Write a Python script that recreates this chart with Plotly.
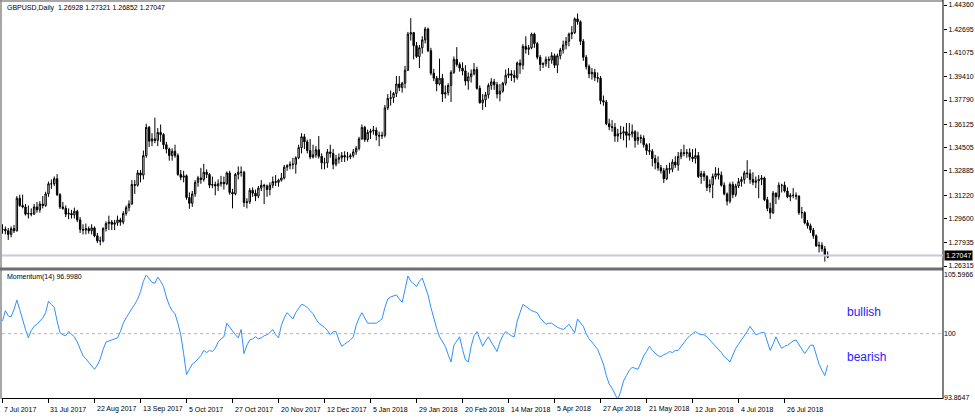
import pandas as pd
import plotly.graph_objects as go

# ---------------- data ----------------
opens = [
    1.2880,1.2885,1.2875,1.2850,1.2890,1.2875,1.3100,1.3050,1.3040,1.2990,
    1.2995,1.2990,1.3040,1.3020,1.3060,1.3050,1.3130,1.3200,1.3200,1.3235,
    1.3125,1.3040,1.3030,1.2990,1.2995,1.2985,1.3010,1.2950,1.2885,1.2880,
    1.2890,1.2875,1.2895,1.2840,1.2805,1.2805,1.2890,1.2925,1.2935,1.2920,
    1.2930,1.2950,1.2935,1.2995,1.3035,1.3060,1.3195,1.3190,1.3275,1.3260,
    1.3395,1.3590,1.3495,1.3510,1.3500,1.3555,1.3540,1.3470,1.3440,1.3395,
    1.3425,1.3395,1.3265,1.3245,1.3255,1.3105,1.3065,1.3130,1.3210,1.3240,
    1.3230,1.3280,1.3265,1.3190,1.3195,1.3185,1.3200,1.3210,1.3200,1.3275,
    1.3140,1.3130,1.3265,1.3280,1.3280,1.3070,1.3075,1.3155,1.3135,1.3115,
    1.3170,1.3190,1.3185,1.3160,1.3190,1.3215,1.3210,1.3225,1.3240,1.3315,
    1.3325,1.3335,1.3335,1.3380,1.3450,1.3525,1.3490,1.3430,1.3385,1.3400,
    1.3435,1.3390,1.3345,1.3345,1.3420,1.3410,1.3335,1.3370,1.3380,1.3395,
    1.3385,1.3385,1.3395,1.3420,1.3445,1.3510,1.3590,1.3505,1.3555,1.3565,
    1.3570,1.3535,1.3530,1.3535,1.3725,1.3790,1.3795,1.3825,1.3890,1.3865,
    1.3895,1.3985,1.4235,1.4245,1.4155,1.4080,1.4140,1.4195,1.4270,1.4120,
    1.3965,1.3930,1.3890,1.3930,1.3820,1.3830,1.3880,1.3970,1.4060,1.4025,
    1.4000,1.3980,1.3910,1.3940,1.3960,1.3990,1.3860,1.3760,1.3780,1.3815,
    1.3880,1.3905,1.3885,1.3820,1.3840,1.3895,1.3950,1.3960,1.3950,1.3935,
    1.4035,1.4020,1.4150,1.4130,1.4140,1.4235,1.4170,1.4075,1.4025,1.4030,
    1.4060,1.4055,1.4085,1.4020,1.4085,1.4125,1.4160,1.4185,1.4235,1.4245,
    1.4340,1.4320,1.4185,1.4075,1.4010,1.3960,1.3970,1.3935,1.3930,1.3775,
    1.3765,1.3615,1.3595,1.3590,1.3530,1.3545,1.3550,1.3560,1.3535,1.3545,
    1.3560,1.3500,1.3520,1.3515,1.3470,1.3430,1.3425,1.3375,1.3345,1.3310,
    1.3290,1.3235,1.3305,1.3300,1.3350,1.3330,1.3390,1.3415,1.3410,1.3415,
    1.3385,1.3375,1.3395,1.3250,1.3270,1.3250,1.3175,1.3195,1.3250,1.3270,
    1.3260,1.3190,1.3130,1.3080,1.3195,1.3125,1.3185,1.3215,1.3230,1.3275,
    1.3270,1.3230,1.3210,1.3220,1.3230,1.3240,1.3090,1.3030,1.3000,1.3135,
    1.3110,1.3190,1.3190,1.3150,1.3110,1.3120,1.3120,1.3115,1.3000,1.3000,
    1.2930,1.2910,1.2880,1.2840,1.2770,1.2775,1.2750,1.26928,
]
highs = [
    1.2920,1.2905,1.2895,1.2905,1.2915,1.3115,1.3125,1.3125,1.3060,1.3050,
    1.3030,1.3060,1.3075,1.3080,1.3115,1.3145,1.3215,1.3230,1.3250,1.3267,
    1.3135,1.3075,1.3050,1.3030,1.3020,1.3035,1.3020,1.2970,1.2920,1.2925,
    1.2905,1.2920,1.2905,1.2860,1.2835,1.2900,1.2940,1.2980,1.2950,1.2950,
    1.2980,1.2965,1.3010,1.3050,1.3085,1.3225,1.3225,1.3295,1.3295,1.3430,
    1.3615,1.3600,1.3550,1.3657,1.3585,1.3610,1.3550,1.3490,1.3450,1.3445,
    1.3470,1.3410,1.3295,1.3290,1.3265,1.3140,1.3150,1.3225,1.3255,1.3310,
    1.3338,1.3300,1.3275,1.3250,1.3215,1.3230,1.3255,1.3250,1.3285,1.3290,
    1.3165,1.3275,1.3320,1.3320,1.3290,1.3100,1.3170,1.3175,1.3160,1.3185,
    1.3225,1.3200,1.3195,1.3210,1.3250,1.3260,1.3235,1.3275,1.3330,1.3335,
    1.3355,1.3380,1.3390,1.3470,1.3550,1.3545,1.3505,1.3510,1.3470,1.3460,
    1.3530,1.3410,1.3380,1.3440,1.3470,1.3440,1.3400,1.3410,1.3420,1.3425,
    1.3420,1.3410,1.3440,1.3460,1.3525,1.3610,1.3600,1.3575,1.3580,1.3600,
    1.3590,1.3560,1.3560,1.3745,1.3820,1.3845,1.3835,1.3945,1.3945,1.3905,
    1.4015,1.4250,1.4345,1.4250,1.4180,1.4160,1.4220,1.4285,1.4280,1.4140,
    1.3995,1.3945,1.4065,1.3960,1.3880,1.3895,1.3985,1.4080,1.4145,1.4040,
    1.4040,1.4020,1.3970,1.3990,1.4035,1.4010,1.3880,1.3820,1.3835,1.3895,
    1.3930,1.3925,1.3905,1.3890,1.3905,1.3990,1.4000,1.3985,1.3985,1.4045,
    1.4060,1.4165,1.4220,1.4160,1.4245,1.4245,1.4180,1.4090,1.4040,1.4080,
    1.4080,1.4110,1.4100,1.4100,1.4140,1.4190,1.4215,1.4245,1.4290,1.4350,
    1.4377,1.4330,1.4200,1.4090,1.4025,1.4000,1.3995,1.3970,1.3945,1.3810,
    1.3780,1.3650,1.3640,1.3620,1.3580,1.3600,1.3595,1.3620,1.3620,1.3610,
    1.3570,1.3560,1.3540,1.3535,1.3480,1.3480,1.3440,1.3400,1.3390,1.3330,
    1.3310,1.3330,1.3345,1.3370,1.3390,1.3420,1.3440,1.3470,1.3440,1.3445,
    1.3440,1.3445,1.3420,1.3290,1.3290,1.3260,1.3230,1.3270,1.3315,1.3310,
    1.3285,1.3210,1.3140,1.3210,1.3215,1.3200,1.3240,1.3250,1.3290,1.3363,
    1.3300,1.3280,1.3250,1.3260,1.3260,1.3250,1.3110,1.3070,1.3150,1.3140,
    1.3210,1.3200,1.3215,1.3175,1.3135,1.3170,1.3140,1.3120,1.3040,1.3010,
    1.2950,1.2925,1.2895,1.2850,1.2800,1.2795,1.2770,1.27321,
]
lows = [
    1.2855,1.2850,1.2812,1.2830,1.2860,1.2870,1.3040,1.3030,1.2980,1.2960,
    1.2975,1.2985,1.3000,1.3000,1.3030,1.3040,1.3110,1.3165,1.3185,1.3115,
    1.3025,1.3020,1.2970,1.2955,1.2960,1.2960,1.2935,1.2860,1.2850,1.2850,
    1.2855,1.2850,1.2830,1.2790,1.2774,1.2795,1.2870,1.2880,1.2880,1.2880,
    1.2910,1.2910,1.2920,1.2980,1.3010,1.3055,1.3130,1.3180,1.3210,1.3230,
    1.3380,1.3455,1.3460,1.3480,1.3460,1.3490,1.3440,1.3410,1.3360,1.3360,
    1.3380,1.3255,1.3225,1.3210,1.3090,1.3027,1.3040,1.3110,1.3180,1.3200,
    1.3215,1.3240,1.3170,1.3170,1.3120,1.3150,1.3180,1.3160,1.3190,1.3125,
    1.3030,1.3120,1.3230,1.3250,1.3040,1.3030,1.3060,1.3110,1.3080,1.3100,
    1.3150,1.3060,1.3110,1.3120,1.3170,1.3185,1.3180,1.3215,1.3230,1.3290,
    1.3300,1.3300,1.3270,1.3370,1.3410,1.3440,1.3410,1.3370,1.3375,1.3380,
    1.3375,1.3300,1.3300,1.3310,1.3380,1.3300,1.3320,1.3340,1.3350,1.3350,
    1.3360,1.3370,1.3380,1.3400,1.3430,1.3505,1.3490,1.3490,1.3510,1.3540,
    1.3500,1.3460,1.3510,1.3520,1.3710,1.3740,1.3760,1.3800,1.3840,1.3830,
    1.3860,1.3980,1.4190,1.4060,1.4070,1.4000,1.4100,1.4170,1.4110,1.3950,
    1.3910,1.3840,1.3880,1.3765,1.3790,1.3810,1.3765,1.3960,1.4010,1.3975,
    1.3950,1.3880,1.3850,1.3900,1.3950,1.3850,1.3755,1.3711,1.3730,1.3790,
    1.3850,1.3850,1.3790,1.3770,1.3830,1.3880,1.3930,1.3910,1.3900,1.3920,
    1.3960,1.3990,1.4100,1.4090,1.4130,1.4140,1.4060,1.3980,1.4000,1.4010,
    1.4000,1.4030,1.4000,1.3965,1.4060,1.4100,1.4130,1.4150,1.4200,1.4235,
    1.4300,1.4160,1.4050,1.3990,1.3930,1.3920,1.3910,1.3900,1.3750,1.3740,
    1.3605,1.3570,1.3560,1.3490,1.3490,1.3510,1.3500,1.3450,1.3500,1.3520,
    1.3450,1.3470,1.3480,1.3450,1.3400,1.3400,1.3320,1.3300,1.3290,1.3270,
    1.3205,1.3225,1.3270,1.3280,1.3310,1.3290,1.3370,1.3390,1.3380,1.3360,
    1.3350,1.3340,1.3240,1.3200,1.3220,1.3150,1.3140,1.3100,1.3230,1.3230,
    1.3180,1.3120,1.3050,1.3065,1.3100,1.3110,1.3170,1.3180,1.3200,1.3240,
    1.3200,1.3190,1.3170,1.3100,1.3190,1.3080,1.3010,1.2957,1.2990,1.3060,
    1.3090,1.3140,1.3140,1.3100,1.3080,1.3100,1.3090,1.2985,1.2960,1.2920,
    1.2890,1.2860,1.2820,1.2765,1.2725,1.2730,1.2662,1.26852,
]
closes = [
    1.2885,1.2875,1.2850,1.2890,1.2875,1.3100,1.3050,1.3040,1.2990,1.2995,
    1.2990,1.3040,1.3020,1.3060,1.3050,1.3130,1.3200,1.3200,1.3235,1.3125,
    1.3040,1.3030,1.2990,1.2995,1.2985,1.3010,1.2950,1.2885,1.2880,1.2890,
    1.2875,1.2895,1.2840,1.2805,1.2805,1.2890,1.2925,1.2935,1.2920,1.2930,
    1.2950,1.2935,1.2995,1.3035,1.3060,1.3195,1.3190,1.3275,1.3260,1.3395,
    1.3590,1.3495,1.3510,1.3500,1.3555,1.3540,1.3470,1.3440,1.3395,1.3425,
    1.3395,1.3265,1.3245,1.3255,1.3105,1.3065,1.3130,1.3210,1.3240,1.3230,
    1.3280,1.3265,1.3190,1.3195,1.3185,1.3200,1.3210,1.3200,1.3275,1.3140,
    1.3130,1.3265,1.3280,1.3280,1.3070,1.3075,1.3155,1.3135,1.3115,1.3170,
    1.3190,1.3185,1.3160,1.3190,1.3215,1.3210,1.3225,1.3240,1.3315,1.3325,
    1.3335,1.3335,1.3380,1.3450,1.3525,1.3490,1.3430,1.3385,1.3400,1.3435,
    1.3390,1.3345,1.3345,1.3420,1.3410,1.3335,1.3370,1.3380,1.3395,1.3385,
    1.3385,1.3395,1.3420,1.3445,1.3510,1.3590,1.3505,1.3555,1.3565,1.3570,
    1.3535,1.3530,1.3535,1.3725,1.3790,1.3795,1.3825,1.3890,1.3865,1.3895,
    1.3985,1.4235,1.4245,1.4155,1.4080,1.4140,1.4195,1.4270,1.4120,1.3965,
    1.3930,1.3890,1.3930,1.3820,1.3830,1.3880,1.3970,1.4060,1.4025,1.4000,
    1.3980,1.3910,1.3940,1.3960,1.3990,1.3860,1.3760,1.3780,1.3815,1.3880,
    1.3905,1.3885,1.3820,1.3840,1.3895,1.3950,1.3960,1.3950,1.3935,1.4035,
    1.4020,1.4150,1.4130,1.4140,1.4235,1.4170,1.4075,1.4025,1.4030,1.4060,
    1.4055,1.4085,1.4020,1.4085,1.4125,1.4160,1.4185,1.4235,1.4245,1.4340,
    1.4320,1.4185,1.4075,1.4010,1.3960,1.3970,1.3935,1.3930,1.3775,1.3765,
    1.3615,1.3595,1.3590,1.3530,1.3545,1.3550,1.3560,1.3535,1.3545,1.3560,
    1.3500,1.3520,1.3515,1.3470,1.3430,1.3425,1.3375,1.3345,1.3310,1.3290,
    1.3235,1.3305,1.3300,1.3350,1.3330,1.3390,1.3415,1.3410,1.3415,1.3385,
    1.3375,1.3395,1.3250,1.3270,1.3250,1.3175,1.3195,1.3250,1.3270,1.3260,
    1.3190,1.3130,1.3080,1.3195,1.3125,1.3185,1.3215,1.3230,1.3275,1.3270,
    1.3230,1.3210,1.3220,1.3230,1.3240,1.3090,1.3030,1.3000,1.3135,1.3110,
    1.3190,1.3190,1.3150,1.3110,1.3120,1.3120,1.3115,1.3000,1.3000,1.2930,
    1.2910,1.2880,1.2840,1.2770,1.2775,1.2750,1.2710,1.27047,
]
momentum = [
    101.2,102.2,101.7,101.6,102.3,103.2,102.3,101.3,100.4,99.6,
    100.3,100.7,100.9,101.2,101.5,102.0,103.1,102.8,102.5,101.2,
    100.1,99.9,99.8,100.2,99.9,99.7,99.2,98.5,97.9,97.6,
    97.3,97.0,96.6,97.0,97.6,98.5,99.2,99.3,99.4,99.5,
    99.6,100.2,101.0,101.5,102.0,102.4,102.8,103.3,104.0,105.0,
    105.6,105.3,104.9,104.8,105.4,105.0,104.5,103.5,102.7,102.2,
    101.9,101.0,99.9,98.1,96.1,96.6,97.1,97.3,97.6,97.9,
    98.4,98.2,98.4,98.3,98.6,99.2,99.5,99.7,101.0,100.6,
    100.2,99.9,99.6,100.4,98.1,98.9,99.4,99.5,99.7,99.5,
    99.6,99.8,99.9,100.1,100.4,99.9,99.6,100.8,101.5,102.0,
    101.7,101.4,102.0,102.4,102.8,102.7,102.5,102.2,101.9,101.4,
    101.0,100.8,100.6,100.3,99.9,100.2,100.2,99.4,98.8,99.0,
    99.2,99.4,99.7,100.8,101.5,102.0,101.5,101.0,101.0,101.0,
    101.0,101.2,101.4,102.5,103.3,103.5,103.6,103.7,103.3,103.0,
    104.2,105.5,105.0,104.7,104.5,105.0,105.3,104.5,103.7,102.5,
    101.4,100.5,99.7,99.2,98.8,98.0,97.3,98.9,99.3,99.7,
    98.5,97.5,97.3,98.8,99.8,100.2,99.5,98.8,99.3,99.7,
    99.2,98.7,98.3,99.2,99.8,100.2,100.0,99.8,99.7,101.2,
    102.0,102.8,102.6,102.4,102.2,102.1,102.0,101.5,101.2,100.9,
    101.0,101.0,100.8,100.6,100.5,100.4,100.6,100.9,100.5,100.1,
    101.4,101.0,100.7,100.0,99.5,99.2,98.9,98.5,97.8,97.1,
    96.0,95.2,94.8,94.2,93.7,94.5,95.5,96.0,96.5,96.8,
    96.7,96.6,97.2,97.9,98.3,98.8,98.4,98.1,97.9,97.8,
    98.0,98.1,98.3,98.2,98.4,98.4,98.8,99.2,99.5,99.8,
    100.0,100.2,100.0,99.9,99.9,99.7,99.4,99.1,98.8,98.6,
    98.2,97.8,97.6,97.3,97.9,98.6,99.0,99.4,99.7,100.2,
    100.7,100.3,99.9,100.0,100.1,100.1,99.2,98.4,99.0,99.7,
    99.1,98.6,98.8,98.9,99.1,99.3,99.4,99.0,98.5,98.1,
    98.5,98.9,98.9,98.0,97.1,96.5,96.0,96.998,
]
date_labels = ["7 Jul 2017", "31 Jul 2017", "22 Aug 2017", "13 Sep 2017", "5 Oct 2017",
               "27 Oct 2017", "20 Nov 2017", "12 Dec 2017", "5 Jan 2018", "29 Jan 2018",
               "20 Feb 2018", "14 Mar 2018", "5 Apr 2018", "27 Apr 2018", "21 May 2018",
               "12 Jun 2018", "4 Jul 2018", "26 Jul 2018"]
price_ticks = [1.44360, 1.42695, 1.41075, 1.39410, 1.37790, 1.36125, 1.34505,
               1.32885, 1.31220, 1.29600, 1.27935, 1.26315]
mom_ticks = [105.5966, 100.0, 93.8647]
last_price = 1.27047
header = "GBPUSD,Daily  1.26928 1.27321 1.26852 1.27047"
mom_header = "Momentum(14) 96.9980"

# ---------------- trading calendar ----------------
days = pd.bdate_range("2017-07-07", "2018-08-16")
days = days[~days.isin(pd.to_datetime(["2017-12-25", "2018-01-01"]))]
n = len(closes)
assert len(opens) == n and len(highs) == n and len(lows) == n and len(momentum) == n and len(days) == n, \
    (len(opens), len(highs), len(lows), len(closes), len(momentum), len(days))
idx = list(range(n))
day_pos = {d: i for i, d in enumerate(days)}
tick_pos = [day_pos[pd.to_datetime(s, format="%d %b %Y")] for s in date_labels]

# ---------------- geometry helpers (pixel -> paper) ----------------
W, H = 975, 420
px = lambda v: v / W
py = lambda v: 1 - v / H
FONT = "Liberation Sans, Arial, sans-serif"

fig = go.Figure()
fig.add_trace(go.Candlestick(
    x=idx, open=opens, high=highs, low=lows, close=closes,
    increasing=dict(line=dict(color="black", width=1), fillcolor="white"),
    decreasing=dict(line=dict(color="black", width=1), fillcolor="black"),
    whiskerwidth=0, xaxis="x", yaxis="y", hoverinfo="skip",
))
fig.add_trace(go.Scatter(
    x=idx, y=momentum, mode="lines", line=dict(color="#2f8fff", width=1),
    xaxis="x", yaxis="y2", hoverinfo="skip",
))

axis_font = dict(family=FONT, size=7, color="black")
fig.update_layout(
    width=W, height=H, margin=dict(l=0, r=0, t=0, b=0),
    paper_bgcolor="white", plot_bgcolor="white", showlegend=False,
    xaxis=dict(domain=[px(2), px(943)], range=[-0.17, 327.1], anchor="y2",
               showgrid=False, zeroline=False, rangeslider=dict(visible=False),
               tickmode="array", tickvals=tick_pos, showticklabels=False,
               ticks="outside", ticklen=4, tickcolor="black",
               showline=True, linecolor="black", linewidth=1, automargin=False),
    yaxis=dict(domain=[py(267), py(3)], range=[1.26246, 1.44499], side="right",
               anchor="x", showgrid=False, zeroline=False, tickmode="array",
               tickvals=price_ticks, ticktext=[f"{v:.5f}" for v in price_ticks],
               ticks="outside", ticklen=3, tickcolor="black", tickfont=axis_font,
               automargin=False),
    yaxis2=dict(domain=[py(398), py(275)], range=[93.8647, 105.5966], side="right",
                anchor="x", showgrid=False, zeroline=False, tickmode="array",
                tickvals=mom_ticks, ticktext=["105.5966", "100", "93.8647"],
                ticks="", tickfont=axis_font, automargin=False),
)

shapes = [
    # outer frame left / top
    dict(type="line", xref="paper", yref="paper", x0=px(1), x1=px(1), y0=py(0), y1=py(399),
         line=dict(color="#8a8a8a", width=1.5)),
    dict(type="line", xref="paper", yref="paper", x0=px(0), x1=px(943), y0=py(1), y1=py(1),
         line=dict(color="#8a8a8a", width=1.5)),
    # panel separator
    dict(type="rect", xref="paper", yref="paper", x0=px(0), x1=px(943), y0=py(270.5), y1=py(267.5),
         fillcolor="#6e6e6e", line=dict(width=0)),
    # right axis line
    dict(type="line", xref="paper", yref="paper", x0=px(943), x1=px(943), y0=py(0), y1=py(399),
         line=dict(color="black", width=1)),
    # current price line
    dict(type="line", xref="paper", yref="y", x0=px(2), x1=px(943), y0=last_price, y1=last_price,
         line=dict(color="#c4ccd8", width=2)),
    # momentum 100 level
    dict(type="line", xref="paper", yref="y2", x0=px(2), x1=px(943), y0=100, y1=100,
         line=dict(color="#b4b4b4", width=1, dash="dot")),
]
fig.update_layout(shapes=shapes)

ann = [
    dict(text=header, xref="paper", yref="paper", x=px(5), y=py(8), xanchor="left", yanchor="middle",
         showarrow=False, font=dict(family=FONT, size=7, color="black")),
    dict(text=mom_header, xref="paper", yref="paper", x=px(5), y=py(277), xanchor="left", yanchor="middle",
         showarrow=False, font=dict(family=FONT, size=7, color="black")),
    dict(text=f"{last_price:.5f}", xref="paper", yref="y", x=px(944), y=last_price, xanchor="left",
         yanchor="middle", showarrow=False, bgcolor="black", borderpad=1,
         font=dict(family=FONT, size=7, color="white")),
    dict(text="bullish", xref="x", yref="y2", x=293, y=102.1, xanchor="left", yanchor="middle",
         showarrow=False, font=dict(family=FONT, size=12, color="#2a1bff")),
    dict(text="bearish", xref="x", yref="y2", x=293, y=97.8, xanchor="left", yanchor="middle",
         showarrow=False, font=dict(family=FONT, size=12, color="#2a1bff")),
]
for lab, pos in zip(date_labels, tick_pos):
    ann.append(dict(text=lab, xref="x", yref="paper", x=pos, y=py(409), xanchor="left", xshift=0,
                    yanchor="middle", showarrow=False, font=dict(family=FONT, size=7, color="black")))
fig.update_layout(annotations=ann)

fig.write_html("out.html", config={"displayModeBar": False},
               post_script="document.body.style.margin='0';document.body.style.overflow='hidden';")
